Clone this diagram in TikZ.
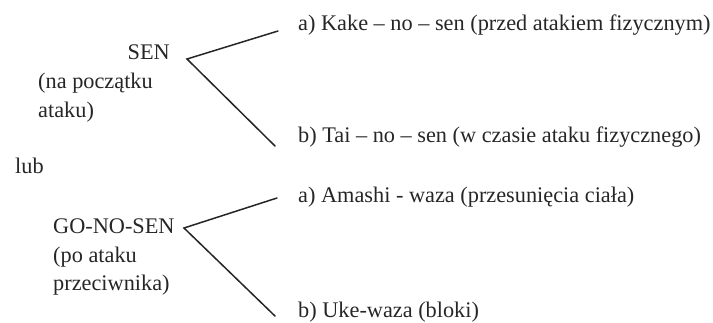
\documentclass[tikz,border=0pt]{standalone}
\usepackage{fontspec}
\setmainfont{Liberation Serif}
\begin{document}
\begin{tikzpicture}[x=1pt,y=-1pt,
  txt/.style={inner sep=0pt,text=black!85,font=\fontsize{22.3}{29}\selectfont},
  fork/.style={draw=black!85,line width=1.5pt,line cap=round}]
\useasboundingbox (0,0) rectangle (713,322);
% SEN group
\node[txt,anchor=base east] (sen) at (170,59) {SEN};
\node[txt,anchor=base west] (sen2) at (38,88) {(na początku};
\node[txt,anchor=base west] (sen3) at (38,117) {ataku)};
\node[txt,anchor=base west] (ka) at (298,30) {a) Kake – no – sen (przed atakiem fizycznym)};
\node[txt,anchor=base west] (tai) at (298,142) {b) Tai – no – sen (w czasie ataku fizycznego)};
\coordinate (f1) at (187,59);
\coordinate (f1a) at (278,31);
\coordinate (f1b) at (275,146);
\draw[fork] (f1a) -- (f1) -- (f1b);
% lub
\node[txt,anchor=base west] (lub) at (15,173) {lub};
% GO-NO-SEN group
\node[txt,anchor=base west] (go) at (53,233) {GO-NO-SEN};
\node[txt,anchor=base west] (go2) at (53,262) {(po ataku};
\node[txt,anchor=base west] (go3) at (53,290) {przeciwnika)};
\node[txt,anchor=base west] (am) at (298,202) {a) Amashi - waza (przesunięcia ciała)};
\node[txt,anchor=base west] (uke) at (298,317) {b) Uke-waza (bloki)};
\coordinate (f2) at (184,228);
\coordinate (f2a) at (277,198);
\coordinate (f2b) at (275,316);
\draw[fork] (f2a) -- (f2) -- (f2b);
\end{tikzpicture}
\end{document}
